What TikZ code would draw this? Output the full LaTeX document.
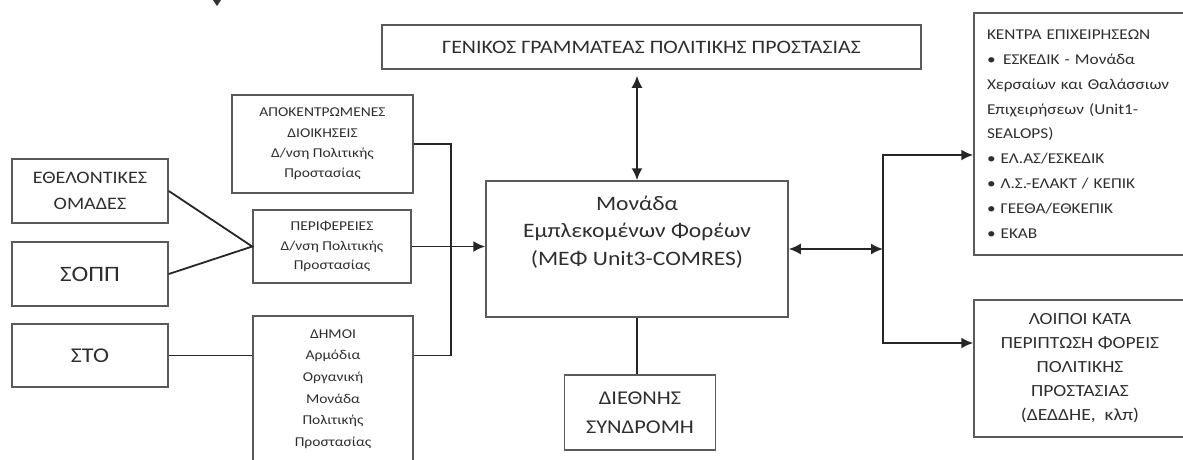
\documentclass[tikz,border=0pt]{standalone}
\usepackage{fontspec}
\setmainfont{Carlito}[FakeStretch=1.15]
\usetikzlibrary{arrows.meta}
\definecolor{boxgray}{HTML}{5A5A5A}
\definecolor{txtgray}{HTML}{2E2E2E}
\begin{document}
\begin{tikzpicture}[x=1pt,y=-1pt,
	box/.style={draw=boxgray,line width=1.5pt,text=txtgray,align=center,inner sep=0pt},
	link/.style={draw=black!85,line width=1.8pt},
	>={Latex[length=12pt,width=11pt]}]
		\useasboundingbox (0,0) rectangle (1183,459);
		\clip (0,0) rectangle (1183,459);

		% top and centre
		\fill[black!80] (213,0)--(221,0)--(217,6)--cycle;
		\draw (651.5,47) node (gen)[box,minimum width=539,minimum height=44,font=\fontsize{19}{22}\selectfont]{ΓΕΝΙΚΟΣ ΓΡΑΜΜΑΤΕΑΣ ΠΟΛΙΤΙΚΗΣ ΠΡΟΣΤΑΣΙΑΣ};
		\draw (637,249) node (mef)[box,minimum width=302,minimum height=136,text depth=37pt,font=\fontsize{20.5}{27.5}\selectfont]{Μονάδα\\Εμπλεκομένων Φορέων\\(ΜΕΦ Unit3-COMRES)};
		\draw (640,412.5) node (diet)[box,minimum width=151,minimum height=75,font=\fontsize{19.5}{29}\selectfont]{ΔΙΕΘΝΗΣ\\ΣΥΝΔΡΟΜΗ};

		% left
		\draw (90,191) node (ethel)[box,minimum width=156,minimum height=64,font=\fontsize{17.5}{26}\selectfont]{ΕΘΕΛΟΝΤΙΚΕΣ\\ΟΜΑΔΕΣ};
		\draw (90,274) node (sopp)[box,minimum width=156,minimum height=64,font=\fontsize{22}{22}\selectfont]{ΣΟΠΠ};
		\draw (90,355.5) node (sto)[box,minimum width=156,minimum height=63,font=\fontsize{21}{22}\selectfont]{ΣΤΟ};
		\draw (322.5,144) node (apok)[box,minimum width=181,minimum height=98,font=\fontsize{13.5}{20.3}\selectfont]{ΑΠΟΚΕΝΤΡΩΜΕΝΕΣ\\ΔΙΟΙΚΗΣΕΙΣ\\Δ/νση Πολιτικής\\Προστασίας};
		\draw (332,246.5) node (perif)[box,minimum width=158,minimum height=73,font=\fontsize{13.5}{19.5}\selectfont]{ΠΕΡΙΦΕΡΕΙΕΣ\\Δ/νση Πολιτικής\\Προστασίας};
		\draw (333,389) node (dimoi)[box,minimum width=160,minimum height=146,font=\fontsize{13.5}{21.6}\selectfont]{ΔΗΜΟΙ\\Αρμόδια\\Οργανική\\Μονάδα\\Πολιτικής\\Προστασίας};

		% right
		\draw (1080,134) node (kentra)[box,align=left,text width=186pt,inner xsep=13pt,minimum height=242,font=\fontsize{15}{24.8}\selectfont]{ΚΕΝΤΡΑ ΕΠΙΧΕΙΡΗΣΕΩΝ\\•\enspace ΕΣΚΕΔΙΚ - Μονάδα\\Χερσαίων και Θαλάσσιων\\Επιχειρήσεων (Unit1-\\SEALOPS)\\• ΕΛ.ΑΣ/ΕΣΚΕΔΙΚ\\• Λ.Σ.-ΕΛΑΚΤ / ΚΕΠΙΚ\\• ΓΕΕΘΑ/ΕΘΚΕΠΙΚ\\• ΕΚΑΒ};
		\draw (1080,368.5) node (loipoi)[box,minimum width=212,minimum height=137,font=\fontsize{17}{24}\selectfont]{ΛΟΙΠΟΙ ΚΑΤΑ\\ΠΕΡΙΠΤΩΣΗ ΦΟΡΕΙΣ\\ΠΟΛΙΤΙΚΗΣ\\ΠΡΟΣΤΑΣΙΑΣ\\(ΔΕΔΔΗΕ,\ \ κλπ)};

		\coordinate (lbus) at (451,0);
		\coordinate (rbusT) at (883,155);
		\coordinate (rbusB) at (883,343);

		% links
		\draw[link,<->,shorten >=6pt] (mef.north) -- (mef.north |- gen.south);
		\draw[link] (mef.south) -- (mef.south |- diet.north);
		\draw[link] (ethel.east) -- (perif.west) -- (sopp.east);
		\draw[link] (sto.east) -- (sto.east -| dimoi.west);
		\draw[link] (apok.east) -- (apok.east -| lbus) -- (sto.east -| lbus) -- (sto.east -| dimoi.east);
		\draw[link,->] (perif.east) -- (perif.east -| mef.west);
		\draw[link,<->] (mef.east) -- (mef.east -| rbusT);
		\draw[link,<->] (rbusT -| kentra.west) -- (rbusT) -- (rbusB) -- (rbusB -| loipoi.west);
	\end{tikzpicture}
\end{document}
